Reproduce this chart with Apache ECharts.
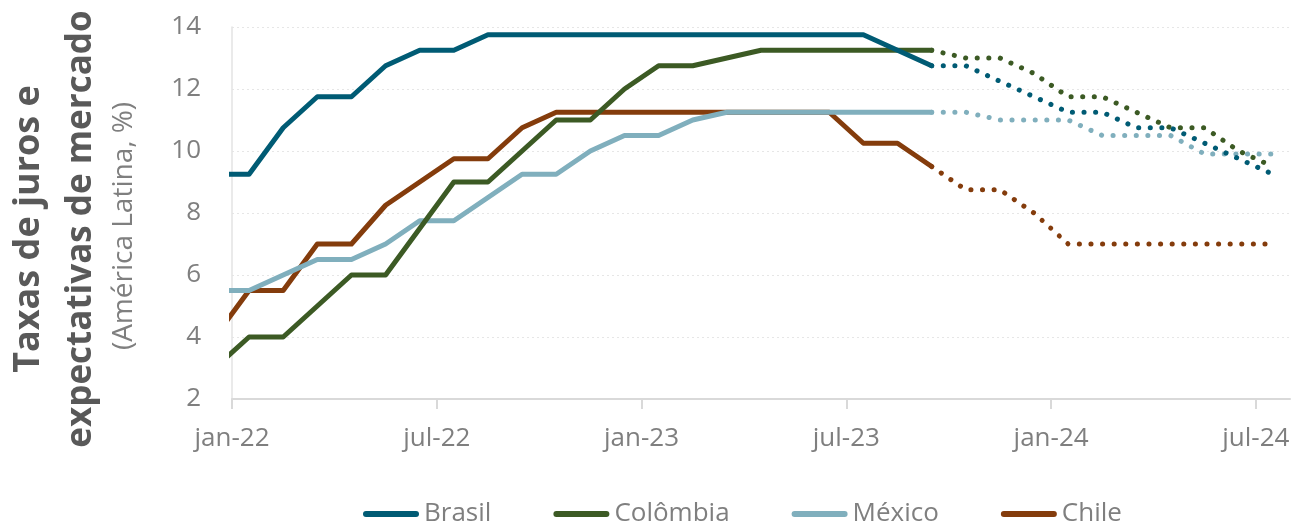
<!DOCTYPE html>
<html>
<head>
<meta charset="utf-8">
<script src="https://cdn.jsdelivr.net/npm/echarts@6/dist/echarts.min.js"></script>
<style>
  html, body { margin: 0; padding: 0; background: #fff; }
  #main { width: 1309px; height: 523px; }
</style>
</head>
<body>
<div id="main"></div>
<script>
// meses (dez-21 a jul-24); cada ponto fica no meio do mês
const months = ['dez-21', 'jan-22', 'fev-22', 'mar-22', 'abr-22', 'mai-22', 'jun-22', 'jul-22',
  'ago-22', 'set-22', 'out-22', 'nov-22', 'dez-22', 'jan-23', 'fev-23', 'mar-23', 'abr-23',
  'mai-23', 'jun-23', 'jul-23', 'ago-23', 'set-23', 'out-23', 'nov-23', 'dez-23', 'jan-24',
  'fev-24', 'mar-24', 'abr-24', 'mai-24', 'jun-24', 'jul-24']
// último mês observado; depois disso são expectativas (pontilhado)
const lastActual = 'set-23'

const brasil = [9.25, 9.25, 10.75, 11.75, 11.75, 12.75, 13.25, 13.25, 13.75, 13.75, 13.75, 13.75,
  13.75, 13.75, 13.75, 13.75, 13.75, 13.75, 13.75, 13.75, 13.25, 12.75, 12.75, 12.25, 11.75,
  11.25, 11.25, 10.75, 10.75, 10.25, 9.75, 9.25]
const colombia = [3.0, 4.0, 4.0, 5.0, 6.0, 6.0, 7.5, 9.0, 9.0, 10.0, 11.0, 11.0, 12.0, 12.75,
  12.75, 13.0, 13.25, 13.25, 13.25, 13.25, 13.25, 13.25, 13.0, 13.0, 12.5, 11.75, 11.75, 11.25,
  10.75, 10.75, 10.0, 9.5]
const mexico = [5.5, 5.5, 6.0, 6.5, 6.5, 7.0, 7.75, 7.75, 8.5, 9.25, 9.25, 10.0, 10.5, 10.5,
  11.0, 11.25, 11.25, 11.25, 11.25, 11.25, 11.25, 11.25, 11.25, 11.0, 11.0, 11.0, 10.5, 10.5,
  10.5, 9.9, 9.9, 9.9]
const chile = [4.0, 5.5, 5.5, 7.0, 7.0, 8.25, 9.0, 9.75, 9.75, 10.75, 11.25, 11.25, 11.25,
  11.25, 11.25, 11.25, 11.25, 11.25, 11.25, 10.25, 10.25, 9.5, 8.75, 8.75, 8.0, 7.0, 7.0, 7.0,
  7.0, 7.0, 7.0, 7.0]

const countries = ['Brasil', 'Colômbia', 'México', 'Chile']
const values = [brasil, colombia, mexico, chile]
const colors = ['#005b74', '#3c5a24', '#80afbd', '#843c0c']

const tickValues = [0, 6, 12, 18, 24, 30]
const tickLabels = ['jan-22', 'jul-22', 'jan-23', 'jul-23', 'jan-24', 'jul-24']

const chart = echarts.init(document.getElementById('main'))
const font = "'Open Sans', 'DejaVu Sans', sans-serif"
const split = months.indexOf(lastActual)

const series = []
countries.forEach((name, k) => {
  // posição no eixo: meses desde jan-22, no meio do mês
  const pts = values[k].map((v, i) => [i - 0.5, v])
  series.push({
    name: name,
    type: 'line',
    data: pts.slice(0, split + 1),
    symbol: 'none',
    z: 10 - k,
    lineStyle: { color: colors[k], width: 5, cap: 'round', join: 'round' },
    itemStyle: { color: colors[k] }
  })
  series.push({
    name: name + ' (expectativa)',
    type: 'line',
    data: pts.slice(split),
    symbol: 'none',
    z: 10 - k,
    lineStyle: { color: colors[k], width: 5, type: [0.1, 11.5], cap: 'round' },
    itemStyle: { color: colors[k] }
  })
})

const option = {
  animation: false,
  textStyle: { fontFamily: font },
  grid: { left: 232, right: 19, top: 27, bottom: 124, containLabel: false },
  xAxis: {
    type: 'value',
    min: 0,
    max: 31,
    interval: 6,
    axisLine: { show: true, lineStyle: { color: '#d9d9d9', width: 2 } },
    axisTick: { show: true, length: 10, customValues: tickValues, lineStyle: { color: '#d9d9d9', width: 2 } },
    axisLabel: {
      customValues: tickValues,
      formatter: (v) => tickLabels[tickValues.indexOf(v)] || '',
      color: '#7f7f7f', fontSize: 26, margin: 27, fontFamily: font
    },
    splitLine: { show: false }
  },
  yAxis: {
    type: 'value',
    min: 2,
    max: 14,
    interval: 2,
    axisLine: { show: true, lineStyle: { color: '#e3e3e3', width: 1.5 } },
    axisTick: { show: false },
    axisLabel: { color: '#7f7f7f', fontSize: 26, margin: 31, fontFamily: font },
    splitLine: { show: true, lineStyle: { color: '#e6e6e6', width: 1, type: [2, 3] } }
  },
  legend: {
    data: countries,
    left: 358,
    top: 496,
    itemWidth: 56,
    itemHeight: 6,
    itemGap: 62,
    icon: 'path://M3,0 H53 A3,3 0 0 1 53,6 H3 A3,3 0 0 1 3,0 Z',
    textStyle: { color: '#7f7f7f', fontSize: 26, fontFamily: font }
  },
  graphic: [
    {
      type: 'text', x: 29, y: 229, rotation: Math.PI / 2,
      style: { text: 'Taxas de juros e', fill: '#595959', font: "bold 36px 'Open Sans'",
        textAlign: 'center', textVerticalAlign: 'middle' }
    },
    {
      type: 'text', x: 81, y: 229, rotation: Math.PI / 2,
      style: { text: 'expectativas de mercado', fill: '#595959', font: "bold 35px 'Open Sans'",
        textAlign: 'center', textVerticalAlign: 'middle' }
    },
    {
      type: 'text', x: 124, y: 226, rotation: Math.PI / 2,
      style: { text: '(América Latina, %)', fill: '#7f7f7f', font: "28px 'Open Sans'",
        textAlign: 'center', textVerticalAlign: 'middle' }
    }
  ],
  series: series
}

option && chart.setOption(option)
</script>
</body>
</html>
